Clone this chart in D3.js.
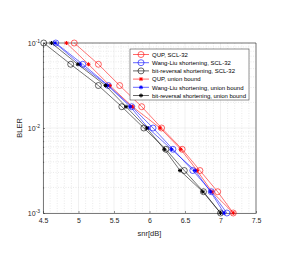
<!DOCTYPE html>
<html>
<head>
<meta charset="utf-8">
<script src="https://cdn.jsdelivr.net/npm/d3@7"></script>
<style>
  body { margin: 0; background: #fff; }
  svg { display: block; font-family: "Liberation Sans", Arial, sans-serif; }
</style>
</head>
<body>
<script>
// BLER levels (y) shared by every curve
const bler = [0.1, 0.0562, 0.0316, 0.0178, 0.01, 0.00562, 0.00316, 0.00178, 0.001];

// snr values per curve
const qupScl = [4.94, 5.28, 5.58, 5.89, 6.17, 6.46, 6.71, 6.96, 7.18];
const wangScl = [4.68, 5.06, 5.42, 5.75, 6.05, 6.33, 6.61, 6.87, 7.09];
const brScl = [4.51, 4.89, 5.28, 5.61, 5.92, 6.23, 6.49, 6.76, 7.0];
const qupUb = [4.83, 5.14, 5.44, 5.76, 6.15, 6.44, 6.67, 6.88, 7.18];
const wangUb = [4.67, 5.02, 5.41, 5.73, 5.98, 6.31, 6.64, 6.86, 7.05];
const brUb = [4.62, 4.99, 5.38, 5.67, 5.96, 6.21, 6.43, 6.75, 7.0];

const seriesNames = [
  'QUP, SCL-32',
  'Wang-Liu shortening, SCL-32',
  'bit-reversal shortening, SCL-32',
  'QUP, union bound',
  'Wang-Liu shortening, union bound',
  'bit-reversal shortening, union bound'
];
const seriesValues = [qupScl, wangScl, brScl, qupUb, wangUb, brUb];
const seriesColors = ['#ff0000', '#0000ff', '#000000', '#ff0000', '#0000ff', '#000000'];
const seriesMarkers = ['o', 'o', 'o', '*', '*', '*'];

const xTicks = [4.5, 5, 5.5, 6, 6.5, 7, 7.5];
const yTicks = [1e-1, 1e-2, 1e-3];
const yTickExp = ['-1', '-2', '-3'];

const width = 286, height = 265;
const margin = { left: 43, right: 30, top: 43, bottom: 52 };

const svg = d3.select('body').append('svg')
  .attr('width', width)
  .attr('height', height);

const x = d3.scaleLinear().domain([4.5, 7.5]).range([margin.left, width - margin.right]);
const y = d3.scaleLog().domain([1e-3, 1e-1]).range([height - margin.bottom, margin.top]);

const x0 = x.range()[0], x1 = x.range()[1];
const y0 = y.range()[0], y1 = y.range()[1];

// minor grid
const xMinor = d3.range(4.6, 7.45, 0.1).filter(v => Math.abs(v * 2 - Math.round(v * 2)) > 0.01);
svg.append('g').selectAll('line')
  .data(xMinor)
  .enter().append('line')
  .attr('x1', d => x(d)).attr('x2', d => x(d))
  .attr('y1', y1).attr('y2', y0)
  .attr('stroke', '#d4d4d4')
  .attr('stroke-width', 0.5)
  .attr('stroke-dasharray', '1,1.5');

const yMinor = [];
[1e-3, 1e-2].forEach(dec => { for (let k = 2; k <= 9; k++) yMinor.push(dec * k); });
svg.append('g').selectAll('line')
  .data(yMinor)
  .enter().append('line')
  .attr('x1', x0).attr('x2', x1)
  .attr('y1', d => y(d)).attr('y2', d => y(d))
  .attr('stroke', '#d4d4d4')
  .attr('stroke-width', 0.5)
  .attr('stroke-dasharray', '1,1.5');

// major grid
svg.append('g').selectAll('line')
  .data(xTicks)
  .enter().append('line')
  .attr('x1', d => x(d)).attr('x2', d => x(d))
  .attr('y1', y1).attr('y2', y0)
  .attr('stroke', '#e0e0e0')
  .attr('stroke-width', 0.5);
svg.append('g').selectAll('line')
  .data(yTicks)
  .enter().append('line')
  .attr('x1', x0).attr('x2', x1)
  .attr('y1', d => y(d)).attr('y2', d => y(d))
  .attr('stroke', '#e0e0e0')
  .attr('stroke-width', 0.5);

// axes with inward ticks
const axisColor = '#262626';
const xAxis = svg.append('g')
  .attr('transform', `translate(0,${y0})`)
  .call(d3.axisBottom(x).tickValues(xTicks).tickFormat(d3.format('')).tickSizeInner(-2).tickSizeOuter(0).tickPadding(5));
const yAxis = svg.append('g')
  .attr('transform', `translate(${x0},0)`)
  .call(d3.axisLeft(y).tickValues(yTicks.concat(yMinor)).tickFormat('').tickSizeInner(-2).tickSizeOuter(0));

[xAxis, yAxis].forEach(g => {
  g.select('.domain').attr('stroke', axisColor).attr('stroke-width', 0.6);
  g.selectAll('.tick line').attr('stroke', axisColor).attr('stroke-width', 0.5);
  g.selectAll('.tick text').attr('fill', axisColor).attr('font-size', 7).attr('font-family', null);
});
yAxis.selectAll('.tick line').filter(d => yMinor.includes(d)).attr('x2', 1.2);

// box top and right
svg.append('line').attr('x1', x0).attr('x2', x1).attr('y1', y1).attr('y2', y1)
  .attr('stroke', axisColor).attr('stroke-width', 0.6);
svg.append('line').attr('x1', x1).attr('x2', x1).attr('y1', y1).attr('y2', y0)
  .attr('stroke', axisColor).attr('stroke-width', 0.6);

// y tick labels 10^n
const yLab = svg.append('g');
yTicks.forEach((t, i) => {
  const txt = yLab.append('text')
    .attr('x', x0 - 3)
    .attr('y', y(t) + 2.5)
    .attr('text-anchor', 'end')
    .attr('fill', axisColor)
    .attr('font-size', 7);
  txt.append('tspan').text('10');
  txt.append('tspan').attr('dy', -3).attr('font-size', 5).text(yTickExp[i]);
});

// axis labels
svg.append('text')
  .attr('x', (x0 + x1) / 2)
  .attr('y', 236)
  .attr('text-anchor', 'middle')
  .attr('fill', axisColor)
  .attr('font-size', 7.5)
  .text('snr[dB]');
svg.append('text')
  .attr('transform', `translate(22,${(y0 + y1) / 2}) rotate(-90)`)
  .attr('text-anchor', 'middle')
  .attr('fill', axisColor)
  .attr('font-size', 7.5)
  .text('BLER');

// markers
const starPath = r => {
  const a = r * 0.7071;
  return `M${-r},0H${r}M0,${-r}V${r}M${-a},${-a}L${a},${a}M${-a},${a}L${a},${-a}`;
};
function drawMarker(g, type, color) {
  if (type === 'o') {
    g.append('circle').attr('r', 3)
      .attr('fill', 'none').attr('stroke', color).attr('stroke-width', 0.6);
  } else {
    g.append('path').attr('d', starPath(2))
      .attr('fill', 'none').attr('stroke', color).attr('stroke-width', 1);
  }
}

const line = d3.line().x(d => x(d[0])).y(d => y(d[1]));
const plot = svg.append('g');
seriesValues.forEach((vals, i) => {
  const pts = vals.map((v, j) => [v, bler[j]]);
  const g = plot.append('g');
  g.append('path')
    .attr('d', line(pts))
    .attr('fill', 'none')
    .attr('stroke', seriesColors[i])
    .attr('stroke-width', 0.55);
  g.selectAll('g.m')
    .data(pts)
    .enter().append('g')
    .attr('class', 'm')
    .attr('transform', d => `translate(${x(d[0])},${y(d[1])})`)
    .each(function () { drawMarker(d3.select(this), seriesMarkers[i], seriesColors[i]); });
});

// legend
const lg = svg.append('g').attr('transform', 'translate(130,49)');
lg.append('rect')
  .attr('width', 119).attr('height', 51)
  .attr('fill', '#fff')
  .attr('stroke', axisColor)
  .attr('stroke-width', 0.5);
seriesNames.forEach((name, i) => {
  const ly = 5.5 + i * 8.2;
  const row = lg.append('g').attr('transform', `translate(0,${ly})`);
  row.append('line').attr('x1', 3).attr('x2', 19).attr('y1', 0).attr('y2', 0)
    .attr('stroke', seriesColors[i]).attr('stroke-width', 0.6);
  const m = row.append('g').attr('transform', 'translate(11,0)');
  drawMarker(m, seriesMarkers[i], seriesColors[i]);
  row.append('text')
    .attr('x', 22).attr('y', 2.2)
    .attr('fill', '#000')
    .attr('font-size', 6)
    .attr('textLength', i === 5 ? 94 : null)
    .text(name);
});
</script>
</body>
</html>
